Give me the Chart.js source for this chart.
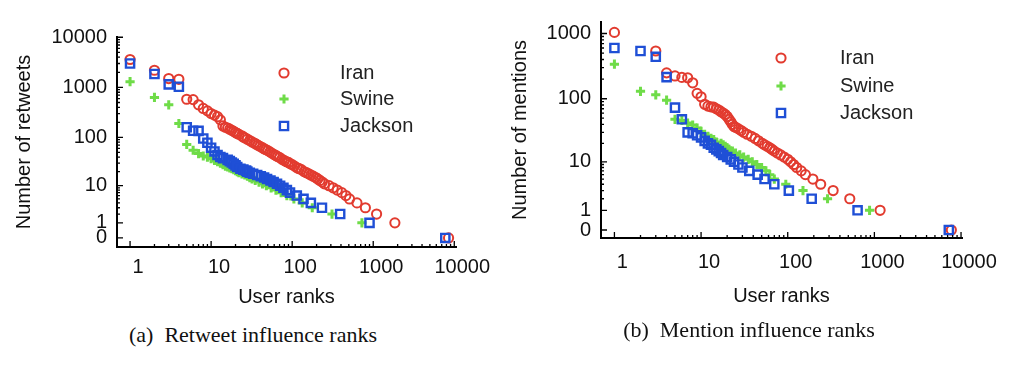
<!DOCTYPE html>
<html>
<head>
<meta charset="utf-8">
<script src="https://cdn.jsdelivr.net/npm/chart.js@4.4.0/dist/chart.umd.min.js"></script>
<style>
  body { margin: 0; background: #fff; width: 1024px; height: 378px; overflow: hidden; position: relative; }
  .box { position: absolute; top: 0; height: 320px; }
  #boxA { left: 0; width: 505px; }
  #boxB { left: 505px; width: 519px; }
  .cap { position: absolute; font-family: 'Liberation Serif', 'Times New Roman', serif; font-size: 22px; color: #111; white-space: pre; transform: translateX(-50%); }
</style>
</head>
<body>
<div class="box" id="boxA"><canvas id="retweetChart"></canvas></div>
<div class="box" id="boxB"><canvas id="mentionChart"></canvas></div>
<div class="cap" style="left:253px; top:322px">(a)  Retweet influence ranks</div>
<div class="cap" style="left:749px; top:317px">(b)  Mention influence ranks</div>

<script>
// (a) retweets: user rank -> number of retweets
const retIranRank = [1, 2, 3, 4, 5, 6, 7, 8, 9, 10, 11, 12, 13, 14, 15, 16, 17, 18, 19, 20, 21, 22, 24, 25, 26, 28, 30, 32, 34, 36, 38, 40, 43, 45, 47, 50, 53, 56, 60, 63, 66, 70, 75, 80, 85, 90, 95, 100, 107, 115, 122, 130, 140, 150, 160, 170, 182, 195, 207, 220, 235, 250, 285, 320, 360, 410, 460, 510, 630, 800, 1100, 1850, 8500];
const retIranCount = [3600, 2200, 1500, 1450, 580, 570, 450, 380, 340, 300, 280, 260, 225, 170, 160, 154, 146, 139, 132, 125, 120, 115, 107, 102, 98, 92, 86, 81, 77, 73, 69, 66, 62, 59, 57, 54, 51, 48, 45, 43, 41, 39, 36, 34, 32, 31, 29, 28, 26, 24, 23, 22, 20, 19, 18, 17, 16, 15, 14, 13, 12, 11, 10, 9, 8, 7, 6, 5, 4, 3, 2, 1, 0];

const retSwineRank = [1, 2, 3, 4, 5, 6, 7, 8, 9, 10, 11, 12, 13, 14, 15, 16, 17, 18, 19, 20, 21, 22, 24, 26, 28, 30, 32, 35, 39, 43, 48, 55, 63, 73, 86, 105, 133, 177, 310, 725];
const retSwineCount = [1300, 630, 450, 190, 72, 55, 47, 42, 40, 37, 34, 32, 30, 28, 26, 25, 24, 23, 22, 21, 20, 19, 18, 17, 16, 15, 14, 13, 12, 11, 10, 9, 8, 7, 6, 5, 4, 3, 2, 1];

const retJacksonRank = [1, 2, 3, 4, 5, 6, 7, 8, 9, 10, 11, 12, 13, 14, 16, 17, 18, 19, 20, 21, 23, 25, 27, 28, 30, 33, 37, 41, 45, 49, 54, 59, 65, 71, 78, 86, 94, 114, 138, 170, 233, 391, 900, 7750];
const retJacksonCount = [3000, 1850, 1150, 1030, 160, 136, 135, 95, 78, 62, 52, 44, 40, 38, 35, 33, 31, 29, 27, 25, 23, 22, 21, 20, 19, 18, 17, 16, 15, 14, 13, 12, 11, 10, 9, 8, 7, 6, 5, 4, 3, 2, 1, 0];

// (b) mentions: user rank -> number of mentions
const menIranRank = [1, 3, 4, 5, 6, 7, 8, 9, 10, 11, 12, 13, 14, 15, 16, 17, 18, 19, 20, 21, 22, 23, 24, 25, 27, 29, 31, 34, 38, 42, 46, 51, 54, 58, 62, 66, 70, 76, 83, 91, 100, 108, 117, 127, 143, 160, 195, 240, 334, 520, 1164, 7730];
const menIranCount = [1040, 540, 250, 224, 213, 210, 176, 121, 107, 82, 77, 75, 74, 70, 67, 63, 60, 57, 53, 48, 44, 40, 37, 36, 34, 32, 30, 28, 26, 24, 22, 20, 19, 18, 17, 16, 15, 14, 13, 12, 11, 10, 9, 8, 7, 6, 5, 4, 3, 2, 1, 0];

const menSwineRank = [1, 2, 3, 4, 5, 6, 7, 8, 9, 10, 11, 12, 13, 14, 15, 17, 18, 19, 20, 21, 23, 25, 28, 31, 35, 39, 44, 50, 56, 62, 70, 95, 150, 288, 880];
const menSwineCount = [340, 130, 115, 95, 48, 46, 42, 39, 35, 31, 28, 26, 24, 23, 21, 20, 19, 18, 17, 16, 15, 14, 13, 12, 11, 10, 9, 8, 7, 6, 5, 4, 3, 2, 1];

const menJacksonRank = [1, 2, 3, 4, 5, 6, 7, 8, 9, 10, 11, 12, 13, 14, 15, 16, 17, 18, 20, 22, 24, 27, 30, 36, 45, 54, 70, 103, 189, 640, 7230];
const menJacksonCount = [600, 540, 440, 215, 73, 48, 30, 29, 27, 25, 22, 20, 19, 17, 16, 15, 14, 13, 12, 11, 10, 9, 8, 7, 6, 5, 4, 3, 2, 1, 0];

const seriesNames = ['Iran', 'Swine', 'Jackson'];
const xTickVals = [1, 10, 100, 1000, 10000];
const yTickVals = [0, 1, 10, 100, 1000, 10000];

const FONT = "'Liberation Sans', Arial, Helvetica, sans-serif";

// y axis is log10(count + 1) so that zero counts can be shown
function toPoints(ranks, counts) {
  return ranks.map((r, i) => ({ x: r, y: Math.log10(counts[i] + 1) }));
}

// small tick marks pointing into the plot, like the original figure
const inwardTicks = {
  id: 'inwardTicks',
  afterDraw(chart) {
    const { ctx, chartArea } = chart;
    const xs = chart.scales.x, ys = chart.scales.y;
    ctx.save();
    ctx.strokeStyle = '#000';
    ctx.lineWidth = 1.3;
    ctx.beginPath();
    for (let d = 1; d <= 10000; d *= 10) {
      for (let m = 1; m <= 9; m++) {
        const v = m * d;
        if (v < xs.min || v > xs.max) continue;
        const px = xs.getPixelForValue(v);
        const len = m === 1 ? 6 : 3;
        ctx.moveTo(px, chartArea.bottom);
        ctx.lineTo(px, chartArea.bottom - len);
      }
    }
    const yv = [0];
    for (let d = 1; d <= 10000; d *= 10) {
      for (let m = 1; m <= 9; m++) yv.push(m * d);
    }
    yv.forEach(v => {
      const lv = Math.log10(v + 1);
      if (lv > ys.max + 0.01) return;
      const py = ys.getPixelForValue(lv);
      const major = yTickVals.includes(v);
      ctx.moveTo(chartArea.left, py);
      ctx.lineTo(chartArea.left + (major ? 6 : 3), py);
    });
    ctx.stroke();
    ctx.restore();
  }
};

// legend drawn inside the plot area
const insideLegend = {
  id: 'insideLegend',
  afterDraw(chart, args, opts) {
    const ctx = chart.ctx;
    ctx.save();
    chart.data.datasets.forEach((ds, i) => {
      const yy = opts.rows[i];
      ctx.strokeStyle = ds.pointBorderColor;
      ctx.fillStyle = 'rgba(0,0,0,0)';
      ctx.lineWidth = ds.pointBorderWidth;
      Chart.helpers.drawPoint(ctx, {
        pointStyle: ds.pointStyle,
        radius: ds.pointRadius,
        borderWidth: ds.pointBorderWidth,
        rotation: 0
      }, opts.markerX, yy);
      ctx.fillStyle = '#222';
      ctx.font = '20px ' + FONT;
      ctx.textAlign = 'left';
      ctx.textBaseline = 'middle';
      ctx.fillText(ds.label, opts.textX, yy);
    });
    ctx.restore();
  }
};

function makeDatasets(iran, swine, jackson) {
  return [
    {
      label: seriesNames[0], data: iran, order: 3,
      pointStyle: 'circle', pointRadius: 4.6, pointBorderWidth: 2,
      pointBorderColor: '#e23b2f', pointBackgroundColor: 'rgba(0,0,0,0)'
    },
    {
      label: seriesNames[1], data: swine, order: 2,
      pointStyle: 'cross', pointRadius: 4.6, pointBorderWidth: 3,
      pointBorderColor: '#6fdc48', pointBackgroundColor: 'rgba(0,0,0,0)'
    },
    {
      label: seriesNames[2], data: jackson, order: 1,
      pointStyle: 'rect', pointRadius: 5.8, pointBorderWidth: 2.4,
      pointBorderColor: '#1f4fd6', pointBackgroundColor: 'rgba(0,0,0,0)'
    }
  ];
}

function makeChart(id, cfg) {
  const ctx = document.getElementById(id).getContext('2d');
  return new Chart(ctx, {
    type: 'scatter',
    data: { datasets: makeDatasets(cfg.iran, cfg.swine, cfg.jackson) },
    options: {
      responsive: true,
      maintainAspectRatio: false,
      animation: false,
      layout: { padding: cfg.padding },
      plugins: {
        legend: { display: false },
        tooltip: { enabled: false },
        insideLegend: cfg.legend
      },
      scales: {
        x: {
          type: 'logarithmic',
          min: cfg.xMin,
          max: cfg.xMax,
          grid: { display: false, drawTicks: false },
          border: { display: true, color: '#000', width: 2 },
          afterBuildTicks: scale => { scale.ticks = xTickVals.map(v => ({ value: v })); },
          afterFit: scale => { scale.height = cfg.xHeight; },
          ticks: {
            autoSkip: false,
            maxRotation: 0,
            padding: cfg.xPad,
            labelOffset: 8,
            color: '#111',
            font: { family: FONT, size: 20 },
            callback: v => String(v)
          },
          title: {
            display: true,
            text: 'User ranks',
            color: '#111',
            font: { family: FONT, size: 20 },
            padding: { top: 0, bottom: 0 }
          }
        },
        y: {
          type: 'linear',
          min: cfg.yMin,
          max: cfg.yMax,
          grid: { display: false, drawTicks: false },
          border: { display: true, color: '#000', width: 2 },
          afterBuildTicks: scale => {
            scale.ticks = yTickVals.filter(v => Math.log10(v + 1) <= cfg.yMax + 0.01)
              .map(v => ({ value: Math.log10(v + 1) }));
          },
          afterFit: scale => { scale.width = cfg.yWidth; },
          ticks: {
            autoSkip: false,
            padding: 10,
            color: '#111',
            font: { family: FONT, size: 20 },
            callback: v => String(Math.round(Math.pow(10, v) - 1))
          },
          title: {
            display: true,
            text: cfg.yTitle,
            color: '#111',
            font: { family: FONT, size: 20 },
            padding: { top: cfg.yTitlePad, bottom: 0 }
          }
        }
      }
    },
    plugins: [inwardTicks, insideLegend]
  });
}

makeChart('retweetChart', {
  iran: toPoints(retIranRank, retIranCount),
  swine: toPoints(retSwineRank, retSwineCount),
  jackson: toPoints(retJacksonRank, retJacksonCount),
  padding: { top: 37, right: 49, bottom: 11, left: 0 },
  xMin: 0.69, xMax: 10500, xHeight: 62, xPad: 8,
  yMin: -0.18, yMax: 4.005, yWidth: 117, yTitlePad: 12,
  yTitle: 'Number of retweets',
  legend: { markerX: 284, textX: 340, rows: [73, 99, 126] }
});

makeChart('mentionChart', {
  iran: toPoints(menIranRank, menIranCount),
  swine: toPoints(menSwineRank, menSwineCount),
  jackson: toPoints(menJacksonRank, menJacksonCount),
  padding: { top: 22, right: 62, bottom: 12, left: 0 },
  xMin: 0.728, xMax: 10260, xHeight: 70, xPad: 12,
  yMin: -0.122, yMax: 3.176, yWidth: 96, yTitlePad: 3,
  yTitle: 'Number of mentions',
  legend: { markerX: 276, textX: 335, rows: [58, 86, 113] }
});
</script>
</body>
</html>
